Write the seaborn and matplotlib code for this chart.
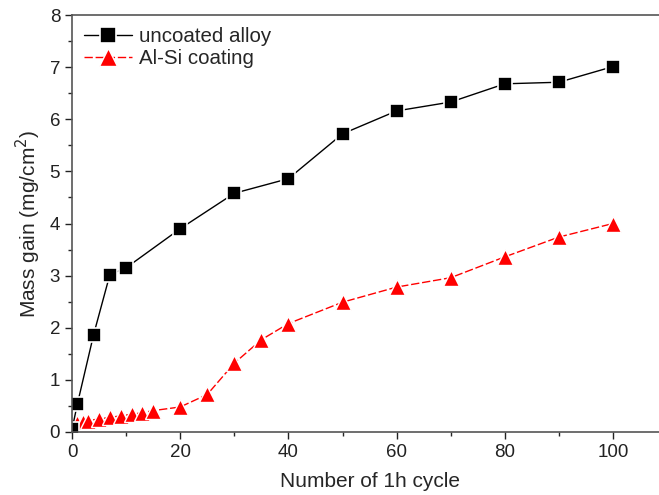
import numpy as np
import pandas as pd
import matplotlib
matplotlib.use("Agg")
import matplotlib.pyplot as plt
import seaborn as sns
from matplotlib.ticker import MultipleLocator

# Data
uncoated_x = [0, 1, 4, 7, 10, 20, 30, 40, 50, 60, 70, 80, 90, 100]
uncoated_y = [0.05, 0.54, 1.87, 3.02, 3.15, 3.90, 4.58, 4.86, 5.72, 6.16, 6.33, 6.68, 6.71, 7.01]
coated_x = [0, 1, 2, 3, 5, 7, 9, 11, 13, 15, 20, 25, 30, 35, 40, 50, 60, 70, 80, 90, 100]
coated_y = [0.12, 0.18, 0.20, 0.22, 0.25, 0.28, 0.31, 0.34, 0.37, 0.41, 0.48, 0.72, 1.32, 1.77, 2.08, 2.49, 2.78, 2.96, 3.36, 3.74, 4.00]
series_names = ["uncoated alloy", "Al-Si coating"]
x_label = "Number of 1h cycle"
y_label = "Mass gain (mg/cm$^2$)"

df_u = pd.DataFrame({"x": uncoated_x, "y": uncoated_y})
df_c = pd.DataFrame({"x": coated_x, "y": coated_y})

sns.set_theme(style="ticks")
plt.rcParams["font.family"] = ["Liberation Sans", "DejaVu Sans"]

W, H = 659, 495
fig = plt.figure(figsize=(W / 100, H / 100), dpi=100)
# axes: left spine at x=72px, x=100 at 613px, bottom at 432px, top at 15px
px_per_unit = (613 - 72) / 100.0
xmax = 110
ax = fig.add_axes([72 / W, (H - 432) / H, xmax * px_per_unit / W, (432 - 15) / H])

sns.lineplot(data=df_c, x="x", y="y", ax=ax, color="#ff0000", linewidth=1.0,
             linestyle=(0, (6, 2)), marker="^", markersize=11, markeredgecolor="white",
             markeredgewidth=1.0, label=series_names[1], sort=False, errorbar=None)
sns.lineplot(data=df_u, x="x", y="y", ax=ax, color="black", linewidth=1.0,
             marker="s", markersize=9.5, markeredgecolor="white", markeredgewidth=1.2,
             label=series_names[0], sort=False, errorbar=None)

ax.set_xlim(0, xmax)
ax.set_ylim(0, 8)
ax.xaxis.set_major_locator(MultipleLocator(20))
ax.xaxis.set_minor_locator(MultipleLocator(10))
ax.yaxis.set_major_locator(MultipleLocator(1))
ax.yaxis.set_minor_locator(MultipleLocator(0.5))
ax.tick_params(which="major", direction="out", length=5, width=1, labelsize=13.5, colors="#222222")
ax.tick_params(which="minor", direction="out", length=3, width=1)
for s in ax.spines.values():
    s.set_color("#555555")
    s.set_linewidth(1.2)

ax.set_xlabel(x_label, fontsize=15, labelpad=8)
ax.set_ylabel(y_label, fontsize=15, labelpad=5)

handles, labels = ax.get_legend_handles_labels()
order = [labels.index(n) for n in series_names]
leg = ax.legend([handles[i] for i in order], [labels[i] for i in order],
                loc="upper left", frameon=False, fontsize=14.8, handlelength=2.3,
                handletextpad=0.35, borderaxespad=0.2, labelspacing=0.15,
                markerscale=1.15, bbox_to_anchor=(0.0, 1.0))

fig.savefig("out.png", dpi=100)
